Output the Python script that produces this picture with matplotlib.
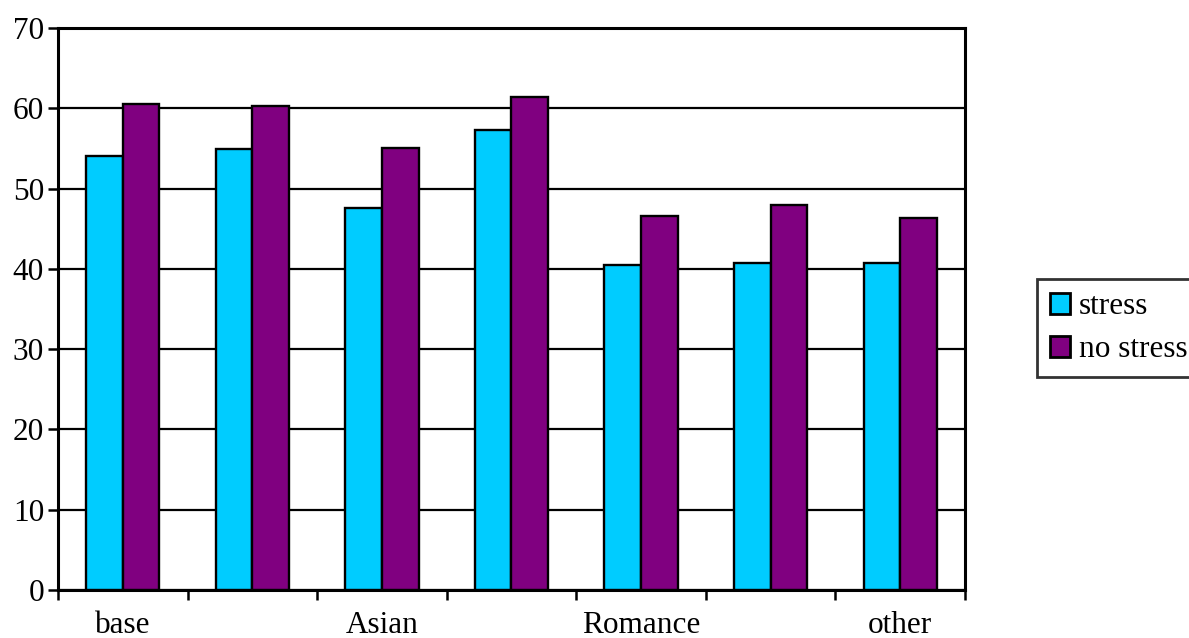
import numpy as np
import matplotlib
matplotlib.use("Agg")
import matplotlib.pyplot as plt

# Group labels (every other group is left unlabelled on the axis)
categories = ["base", "", "Asian", "", "Romance", "", "other"]
stress = [54.1, 54.9, 47.6, 57.3, 40.5, 40.7, 40.7]
no_stress = [60.5, 60.3, 55.1, 61.4, 46.6, 48.0, 46.3]
series_names = ["stress", "no stress"]
y_ticks = [0, 10, 20, 30, 40, 50, 60, 70]

plt.rcParams["font.family"] = ["Liberation Serif", "DejaVu Serif"]
FS = 22.5

fig = plt.figure(figsize=(11.89, 6.38), dpi=100)
ax = fig.add_axes([58 / 1189, 48 / 638, (965 - 58) / 1189, (590 - 28) / 638])

x = np.arange(len(categories))
w = 0.283
ax.bar(x - w / 2, stress, width=w, color="#00CCFF", edgecolor="black",
       linewidth=1.7, label=series_names[0], zorder=3)
ax.bar(x + w / 2, no_stress, width=w, color="#800080", edgecolor="black",
       linewidth=1.7, label=series_names[1], zorder=3)

ax.set_xlim(-0.5, len(categories) - 0.5)
ax.set_ylim(0, 70)
ax.set_yticks(y_ticks)
ax.yaxis.grid(True, color="black", linewidth=1.6, zorder=0)
ax.set_axisbelow(True)

# category labels centred on groups, tick marks on group boundaries
ax.set_xticks(x)
ax.set_xticklabels(categories, fontsize=FS)
ax.tick_params(axis="x", which="major", length=0, pad=15)
ax.set_xticks(np.arange(-0.5, len(categories)), minor=True)
ax.tick_params(axis="x", which="minor", length=7, width=1.8, direction="out")
ax.tick_params(axis="y", length=7, width=1.8, direction="out", labelsize=FS, pad=3)

for s in ax.spines.values():
    s.set_linewidth(2.2)
    s.set_color("black")
    s.set_zorder(5)

leg = fig.legend(loc="upper left", bbox_to_anchor=(1037 / 1189, 1 - 279 / 638),
                 fontsize=FS, frameon=True, fancybox=False, edgecolor="black",
                 handlelength=0.65, handleheight=0.65, handletextpad=0.28,
                 borderpad=0.42, labelspacing=0.45, borderaxespad=0)
leg.get_frame().set_linewidth(2.0)
for h in leg.legend_handles:
    h.set_linewidth(2.0)

fig.savefig("out.png", dpi=100)
